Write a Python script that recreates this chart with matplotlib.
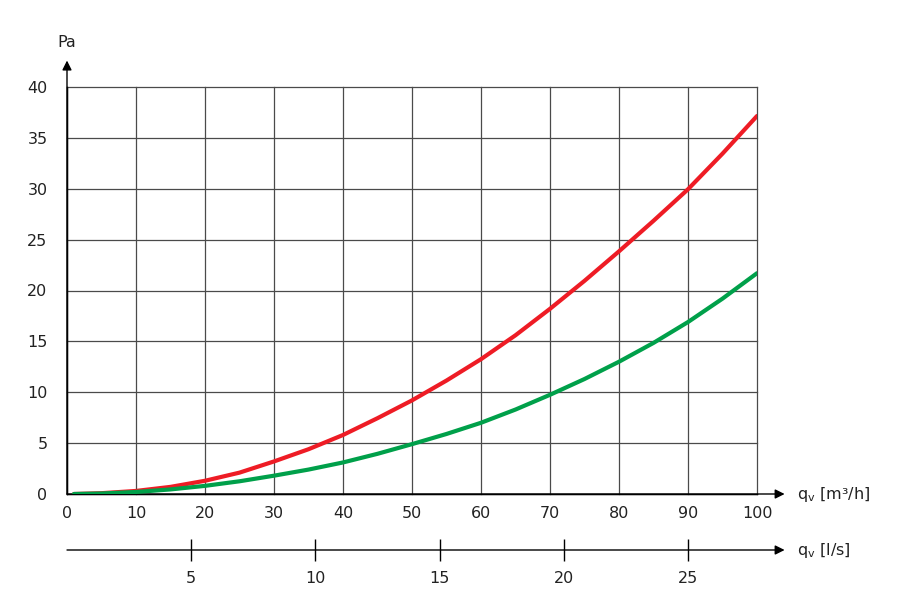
import matplotlib
matplotlib.use("Agg")
import matplotlib.pyplot as plt

# data
flow_m3h = [1, 5, 10, 15, 20, 25, 30, 35, 40, 45, 50, 55, 60, 65, 70, 75, 80, 85, 90, 95, 100]
red_pa = [0.0, 0.08, 0.3, 0.7, 1.3, 2.1, 3.2, 4.4, 5.8, 7.45, 9.2, 11.15, 13.25, 15.6, 18.2,
          20.95, 23.85, 26.85, 29.95, 33.45, 37.15]
green_pa = [0.0, 0.05, 0.2, 0.45, 0.8, 1.25, 1.8, 2.4, 3.1, 3.95, 4.9, 5.9, 7.0, 8.3, 9.75,
            11.3, 13.0, 14.85, 16.9, 19.2, 21.7]
x_ticks = [0, 10, 20, 30, 40, 50, 60, 70, 80, 90, 100]
y_ticks = [0, 5, 10, 15, 20, 25, 30, 35, 40]
ls_ticks = [5, 10, 15, 20, 25]
M3H_PER_LS = 3.6

plt.rcParams['font.family'] = ['DejaVu Sans']
FS = 11.5
TXT = '#222222'

fig = plt.figure(figsize=(9, 6.02), dpi=100)
L, W = 67 / 900, 690 / 900
ax = fig.add_axes([L, 108 / 602, W, 407 / 602])

ax.set_xlim(0, 100)
ax.set_ylim(0, 40)
ax.set_xticks(x_ticks)
ax.set_yticks(y_ticks)
ax.grid(True, color='#4a4a4a', linewidth=0.9)
for gl in ax.get_xgridlines() + ax.get_ygridlines():
    gl.set_clip_on(False)
ax.set_axisbelow(True)
for s in ['top', 'right']:
    ax.spines[s].set_visible(False)
for s in ['left', 'bottom']:
    ax.spines[s].set_color('black')
    ax.spines[s].set_linewidth(1.0)
ax.tick_params(axis='both', length=0, labelsize=FS, labelcolor=TXT)
ax.tick_params(axis='x', pad=9)
ax.tick_params(axis='y', pad=14)

ax.plot(flow_m3h, red_pa, color='#ee1c25', linewidth=3, solid_capstyle='round',
        solid_joinstyle='round', zorder=3)
ax.plot(flow_m3h, green_pa, color='#00a04a', linewidth=3, solid_capstyle='round',
        solid_joinstyle='round', zorder=4)

# axis arrows
ax.annotate('', xy=(104.0, 0), xytext=(0, 0), xycoords='data',
            arrowprops=dict(arrowstyle='-|>', color='black', lw=1.0,
                            mutation_scale=14, shrinkA=0, shrinkB=0),
            annotation_clip=False)
ax.annotate('', xy=(0, 42.6), xytext=(0, 0), xycoords='data',
            arrowprops=dict(arrowstyle='-|>', color='black', lw=1.0,
                            mutation_scale=14, shrinkA=0, shrinkB=0),
            annotation_clip=False)

ax.text(0, 44.4, 'Pa', ha='center', va='center', fontsize=FS, color=TXT)
ax.text(105.8, 0, r'q$_\mathregular{v}$ [m³/h]', ha='left', va='center', fontsize=FS, color=TXT)

# secondary l/s axis
ax2 = fig.add_axes([L, (602 - 550) / 602, W, 0.0001])
ax2.set_xlim(0, 100 / M3H_PER_LS)
ax2.set_ylim(0, 1)
for s in ['top', 'right', 'left', 'bottom']:
    ax2.spines[s].set_visible(False)
ax2.set_yticks([])
ax2.set_xticks(ls_ticks)
ax2.tick_params(axis='x', direction='inout', length=16, width=1.0, color='black',
                labelsize=FS, labelcolor=TXT, pad=7)
ax2.annotate('', xy=(104.0 / M3H_PER_LS, 0), xytext=(0, 0), xycoords='data',
             arrowprops=dict(arrowstyle='-|>', color='black', lw=1.0,
                             mutation_scale=14, shrinkA=0, shrinkB=0),
             annotation_clip=False)
ax2.text(105.8 / M3H_PER_LS, 0, r'q$_\mathregular{v}$ [l/s]', ha='left', va='center',
         fontsize=FS, color=TXT)

fig.savefig('out.png', dpi=100)
